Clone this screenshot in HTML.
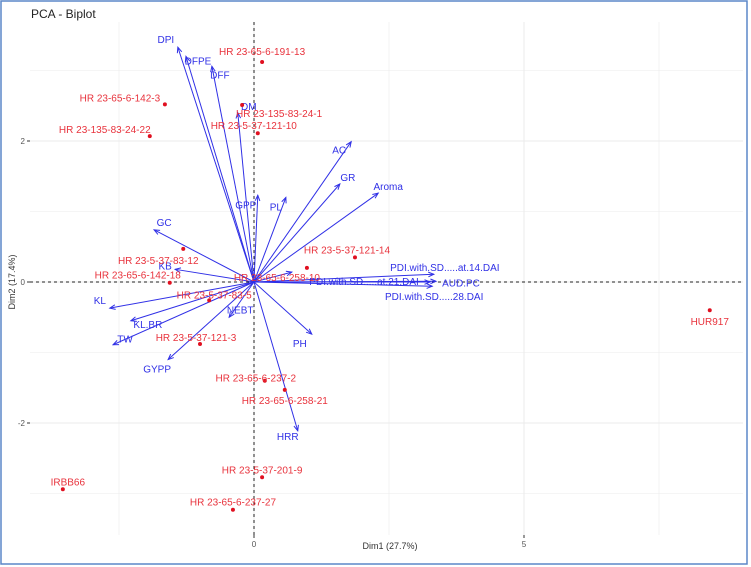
<!DOCTYPE html>
<html><head><meta charset="utf-8"><style>
body{margin:0;background:#fff;}
svg{display:block;font-family:"Liberation Sans",sans-serif;}
</style></head><body>
<svg id="chart" width="751" height="567">
<rect x="1" y="1" width="746" height="563" fill="#fff" stroke="#5b87c9" stroke-width="1.5"/>
<text x="31" y="18" font-size="12" fill="#222">PCA - Biplot</text>
<g id="grid"></g><g id="axes"></g><g id="vars"></g><g id="inds"></g>
<text x="390" y="549" font-size="9" fill="#333" text-anchor="middle">Dim1 (27.7%)</text>
<text transform="translate(15,282) rotate(-90)" font-size="9" fill="#333" text-anchor="middle">Dim2 (17.4%)</text>
</svg>
<script>
const indNames=["HR 23-65-6-191-13","HR 23-65-6-142-3","HR 23-135-83-24-1","HR 23-135-83-24-22","HR 23-5-37-121-10","HR 23-5-37-121-14","HR 23-5-37-83-12","HR 23-65-6-142-18","HR 23-65-6-258-10","HR 23-5-37-83-5","HR 23-5-37-121-3","HR 23-65-6-237-2","HR 23-65-6-258-21","HR 23-5-37-201-9","HR 23-65-6-237-27","IRBB66","HUR917"];
const indX=[0.15,-1.65,-0.22,-1.93,0.07,1.87,-1.31,-1.56,0.98,-0.83,-1.0,0.2,0.57,0.15,-0.39,-3.54,8.44];
const indY=[3.12,2.52,2.51,2.07,2.11,0.35,0.47,-0.01,0.2,-0.26,-0.88,-1.4,-1.53,-2.77,-3.23,-2.94,-0.4];
const indLabDX=[0,-45,37,-45,-4,-8,-25,-32,-30,5,-4,-9,0,0,0,5,0];
const indLabDY=[-10,-6,9,-6,-7,-7,12,-7,10,-5,-6,-2,11,-7,-7,-7,12];
const varNames=["DPI","DFPE","DFF","DM","GPP","PL","AC","GR","Aroma","GC","KB","KL","KL.BR","TW","GYPP","NEBT","PH","HRR","PDI.with.SD.....at.14.DAI","AUD.PC","PDI.with.SD.....at.21.DAI","PDI.with.SD.....28.DAI",""];
const varX=[-1.41,-1.26,-0.78,-0.3,0.07,0.59,1.8,1.59,2.3,-1.85,-1.46,-2.67,-2.28,-2.61,-1.59,-0.46,1.07,0.81,3.33,3.37,3.26,3.3,0.7];
const varY=[3.33,3.2,3.06,2.4,1.23,1.2,1.99,1.39,1.26,0.74,0.18,-0.37,-0.55,-0.89,-1.1,-0.5,-0.74,-2.11,0.11,0.01,0,-0.06,0.14];
const varLabDX=[-12,12,8,11,-12,-10,-12,8,10,10,-10,-10,17,12,-11,11,-12,-10,11,25,-66,2,0];
const varLabDY=[-7,5,9,-6,10,10,9,-6,-6,-7,-3,-7,4,-5,10,-7,10,6,-6,2,0,11,0];
const xTicks=[0,5], yTicks=[-2,0,2];
const X=v=>254+v*54, Y=v=>282-v*70.5;
const ns="http://www.w3.org/2000/svg";
function mk(t,a,p,txt){const e=document.createElementNS(ns,t);for(const k in a)e.setAttribute(k,a[k]);if(txt!==undefined)e.textContent=txt;p.appendChild(e);return e;}
const L=30,R=743,T=22,B=535;
const g=document.getElementById('grid');
[-2.5,0,2.5,5,7.5].forEach(v=>{const e=mk('line',{x1:X(v),x2:X(v),y1:T,y2:B,stroke:'#ebebeb','stroke-width':Number.isInteger(v)?1:0.6},g);

});
[-3,-2,-1,0,1,2,3].forEach(v=>{const e=mk('line',{x1:L,x2:R,y1:Y(v),y2:Y(v),stroke:'#ebebeb','stroke-width':v%2==0?1:0.6},g);

});
const a=document.getElementById('axes');
mk('line',{x1:L,x2:R,y1:Y(0),y2:Y(0),stroke:'#222','stroke-dasharray':'3,3'},a);
mk('line',{x1:X(0),x2:X(0),y1:T,y2:B,stroke:'#222','stroke-dasharray':'3,3'},a);
xTicks.forEach(v=>{mk('line',{x1:X(v),x2:X(v),y1:B,y2:B+3,stroke:'#333'},a);
const t=mk('text',{x:X(v),y:B+12,'font-size':8,fill:'#555','text-anchor':'middle'},a,v);

});
yTicks.forEach(v=>{mk('line',{x1:L-3,x2:L,y1:Y(v),y2:Y(v),stroke:'#333'},a);
const t=mk('text',{x:L-5,y:Y(v)+3,'font-size':8,fill:'#555','text-anchor':'end'},a,v);

});
const vg=document.getElementById('vars');
varNames.forEach((n,i)=>{const x2=X(varX[i]),y2=Y(varY[i]),x1=X(0),y1=Y(0);
const ln=mk('line',{x1,y1,x2,y2,stroke:'#3030e6','stroke-width':1},vg);


const ang=Math.atan2(y2-y1,x2-x1),h=6;
mk('polyline',{points:`${x2-h*Math.cos(ang-0.4)},${y2-h*Math.sin(ang-0.4)} ${x2},${y2} ${x2-h*Math.cos(ang+0.4)},${y2-h*Math.sin(ang+0.4)}`,fill:'none',stroke:'#3030e6','stroke-width':1},vg);
if(n){const t=mk('text',{x:x2+varLabDX[i],y:y2+varLabDY[i]+3,'font-size':10,fill:'#3030e6','text-anchor':'middle'},vg,n);

}});
const ig=document.getElementById('inds');
indNames.forEach((n,i)=>{const x=X(indX[i]),y=Y(indY[i]);
const c=mk('circle',{cx:x,cy:y,r:2,fill:'#e01020'},ig);


const t=mk('text',{x:x+indLabDX[i],y:y+indLabDY[i]+3,'font-size':10,fill:'#e8323c','text-anchor':'middle'},ig,n);

});
</script>
</body></html>
